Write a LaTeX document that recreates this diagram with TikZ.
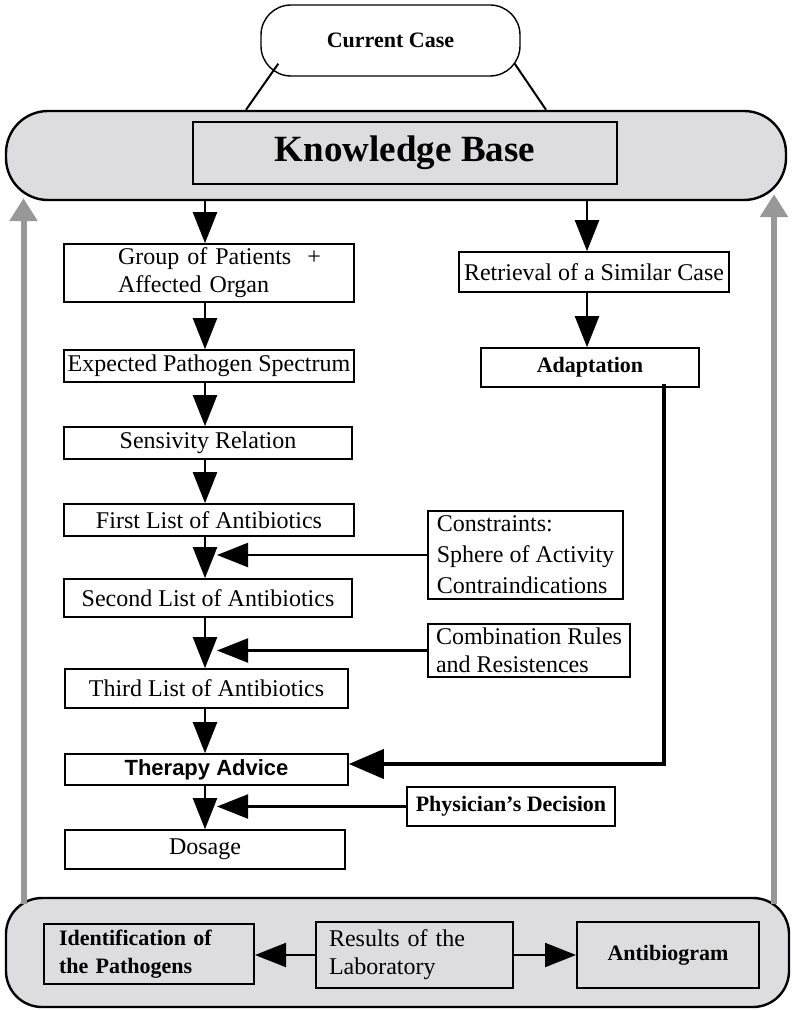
\documentclass[tikz,border=0pt]{standalone}
\usepackage{fontspec}
\setmainfont{Liberation Serif}
\newfontfamily\arialfont{Liberation Sans}
\usepackage{xcolor}
\usetikzlibrary{arrows.meta,calc}
\definecolor{bandgray}{RGB}{221,221,223}
\definecolor{backgray}{RGB}{152,152,152}
\newcommand{\boxfont}{\fontsize{12}{14}\selectfont}
\newcommand{\headfont}{\fontsize{11}{13.7}\selectfont\bfseries}

\begin{document}
\begin{tikzpicture}[
        x=0.5pt, y=-0.5pt,
        box/.style     = {draw, line width=0.8pt, fill=white, inner sep=0pt, font=\boxfont},
        hbox/.style    = {box, font=\headfont},
        band/.style    = {draw, line width=1.2pt, fill=bandgray, inner sep=0pt},
        flow/.style    = {-{Triangle[width=12pt,length=15.5pt]}, line width=1.1pt},
        bigflow/.style = {-{Triangle[width=14.5pt,length=17.5pt]}, line width=2pt},
        back/.style    = {-{Triangle[width=13.5pt,length=11.5pt]}, line width=3pt, color=backgray}
    ]
    \useasboundingbox (0,0) rectangle (791,1010);
    \coordinate (ax) at (205,0);
    \coordinate (tx) at (217,0);
    \coordinate (rx) at (587,0);
    \coordinate (gl) at (23.5,0);
    \coordinate (gr) at (774,0);

    \node[box, rounded corners=15pt, line width=0.7pt, font=\headfont,
          minimum width=129.5pt, minimum height=35.5pt] (cur) at (390.5,40.5) {Current Case};
    \node[band, rounded corners=21pt, minimum width=390pt, minimum height=44.5pt] (kbband) at (396,155.5) {};
    \node[band, line width=1.3pt, minimum width=212pt, minimum height=31pt,
          font=\fontsize{18.5}{20}\selectfont\bfseries] (kb) at (405,153) {Knowledge Base};
    \draw[line width=1pt] ([shift={(9pt,6.5pt)}]cur.south west) -- ([xshift=-75pt]kbband.north);
    \draw[line width=1pt] ([shift={(-3pt,6.5pt)}]cur.south east) -- ([xshift=75pt]kbband.north);

    \node[box, minimum width=145pt, minimum height=29pt, text width=140pt, inner xsep=2.5pt, align=left]
        (group) at (209,273) {\hspace*{24.5pt}Group of Patients\ \ +\\\hspace*{24.5pt}Affected Organ};
    \node[box, minimum width=145pt, minimum height=16pt] (expct) at (209,366) {Expected Pathogen Spectrum};
    \node[box, minimum width=144pt, minimum height=16pt] (sens) at (208,443) {Sensivity Relation};
    \node[box, minimum width=145pt, minimum height=16pt] (first) at (209,520) {First List of Antibiotics};
    \node[box, minimum width=144pt, minimum height=19pt] (second) at (208,598) {Second List of Antibiotics};
    \node[box, minimum width=141.5pt, minimum height=19.5pt] (third) at (206.5,688.5) {Third List of Antibiotics};
    \node[box, minimum width=141.5pt, minimum height=15.5pt,
          font={\arialfont\fontsize{11}{13}\selectfont\bfseries}] (therapy) at (206.5,769.5) {Therapy Advice};
    \node[box, minimum width=140pt, minimum height=19.5pt] (dosage) at (205,849.5) {Dosage};

    \node[box, minimum width=135pt, minimum height=20pt] (retr) at (594,272) {Retrieval of a Similar Case};
    \node[hbox, minimum width=109pt, minimum height=19.5pt] (adapt) at (590,367.5) {Adaptation};

    \node[box, align=left, inner xsep=4pt, minimum width=97.5pt, minimum height=44pt,
          font=\fontsize{12}{15.5}\selectfont] (cons) at (525.5,555) {Constraints:\\Sphere of Activity\\Contraindications};
    \node[box, align=left, inner xsep=3pt, minimum width=101pt, minimum height=26.5pt]
        (comb) at (529,650.5) {Combination Rules\\and Resistences};
    \node[hbox, minimum width=104pt, minimum height=19.5pt] (phys) at (511,806.5) {Physician's Decision};

    \node[band, rounded corners=18pt, minimum width=391.5pt, minimum height=54.5pt] (lab) at (397.5,952.5) {};
    \node[band, line width=1pt, align=left, text width=90pt, inner xsep=7.5pt, minimum height=30pt,
          font=\headfont] (ident) at (149,954) {Identification of\\the Pathogens};
    \node[band, line width=1pt, align=left, text width=85.5pt, inner xsep=6.5pt, minimum height=33pt,
          font=\boxfont] (res) at (414.5,955) {Results of the\\Laboratory};
    \node[band, line width=1pt, minimum width=91pt, minimum height=33pt, font=\headfont] (anti) at (668,955) {Antibiogram};

    \draw[flow] (kbband.south -| ax) -- (group.north -| ax);
    \draw[flow] (group.south -| ax) -- (expct.north -| ax);
    \draw[flow] (expct.south -| ax) -- (sens.north -| ax);
    \draw[flow] (sens.south -| ax) -- (first.north -| ax);
    \draw[flow] (first.south -| ax) -- (second.north -| ax);
    \draw[flow] (second.south -| ax) -- (third.north -| ax);
    \draw[flow] (third.south -| ax) -- (therapy.north -| ax);
    \draw[flow] (therapy.south -| ax) -- (dosage.north -| ax);

    \draw[flow] (kbband.south -| rx) -- (retr.north -| rx);
    \draw[flow] (retr.south -| rx) -- (adapt.north -| rx);
    \draw[bigflow] ([xshift=37pt,yshift=2pt]adapt.south) |- ([yshift=2.75pt]therapy.east);

    \draw[flow] (cons.west) -- (cons.west -| tx);
    \draw[flow] (comb.west) -- (comb.west -| tx);
    \draw[flow] (phys.west) -- (phys.west -| tx);

    \draw[flow] (res.west) -- (res.west -| ident.east);
    \draw[flow] (res.east) -- (res.east -| anti.west);

    \draw[back] ($(gl |- lab.north)+(0,7)$) -- ($(gl |- kbband.south)+(0,-3)$);
    \draw[back] ($(gr |- lab.north)+(0,7)$) -- ($(gr |- kbband.south)+(0,-7)$);
\end{tikzpicture}
\end{document}
